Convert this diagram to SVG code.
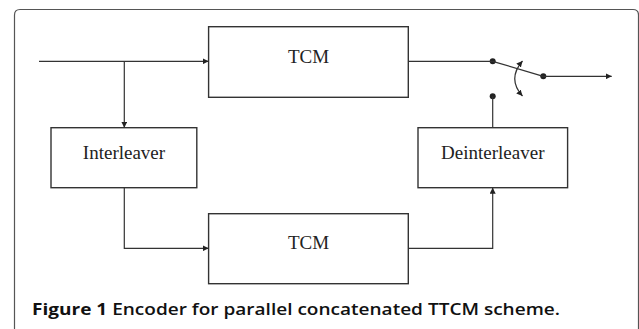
<svg xmlns="http://www.w3.org/2000/svg" width="639" height="329" viewBox="0 0 639 329">
<style>
.box{fill:#fff;stroke:#333;stroke-width:1.4}
.lbl{font-family:"Liberation Serif","Times New Roman",serif;font-size:19px;fill:#222;text-anchor:middle}
.ln{fill:none;stroke:#333;stroke-width:1.2}
.dot{fill:#222}
.cap{font-family:"Open Sans","Noto Sans",sans-serif;font-size:16px;fill:#111}
</style>
<defs>
<marker id="ah" viewBox="0 0 10 10" refX="10" refY="5" markerWidth="6" markerHeight="6" markerUnits="userSpaceOnUse" orient="auto-start-reverse">
<path d="M0,0 L10,5 L0,10 z" fill="#222"/>
</marker>
</defs>
<rect width="639" height="329" fill="#fff"/>
<path d="M14.5,340 L14.5,15 Q14.5,9.5 20,9.5 L633,9.5 Q638.5,9.5 638.5,15 L638.5,340" fill="none" stroke="#555" stroke-width="1.2"/>
<g id="tcm1"><rect class="box" x="208.6" y="26.7" width="199.7" height="70.6"/><text class="lbl" x="308.5" y="63.3">TCM</text></g>
<g id="interleaver"><rect class="box" x="51" y="127.7" width="145.8" height="60"/><text class="lbl" x="124" y="158.7">Interleaver</text></g>
<g id="deinterleaver"><rect class="box" x="418" y="127.7" width="149.6" height="60"/><text class="lbl" x="492.8" y="158.7">Deinterleaver</text></g>
<g id="tcm2"><rect class="box" x="208.6" y="213.7" width="199.7" height="70"/><text class="lbl" x="308.5" y="249.3">TCM</text></g>
<g id="switch">
<circle class="dot" cx="492.7" cy="61.3" r="3"/>
<circle class="dot" cx="543.3" cy="76.3" r="3"/>
<circle class="dot" cx="492.7" cy="96.3" r="3"/>
<line class="ln" x1="492.7" y1="61.3" x2="543.3" y2="76.3"/>
<path class="ln" d="M522.5,61 Q507,79 522.5,96" marker-start="url(#ah)" marker-end="url(#ah)"/>
</g>
<g id="connectors">
<line class="ln" x1="39" y1="61.3" x2="208.6" y2="61.3" marker-end="url(#ah)"/>
<line class="ln" x1="124.3" y1="61.3" x2="124.3" y2="127.7" marker-end="url(#ah)"/>
<polyline class="ln" points="124.3,187.7 124.3,248.3 208.6,248.3" marker-end="url(#ah)"/>
<polyline class="ln" points="408.3,248.3 492.7,248.3 492.7,187.7" marker-end="url(#ah)"/>
<line class="ln" x1="492.7" y1="127.7" x2="492.7" y2="96.3"/>
<line class="ln" x1="408.3" y1="61.3" x2="492.7" y2="61.3"/>
<line class="ln" x1="543.3" y1="76.3" x2="611.7" y2="76.3" marker-end="url(#ah)"/>
</g>
<text class="cap" x="32" y="315" textLength="528" lengthAdjust="spacingAndGlyphs"><tspan font-weight="700">Figure 1</tspan><tspan font-weight="600"> Encoder for parallel concatenated TTCM scheme.</tspan></text>
</svg>
